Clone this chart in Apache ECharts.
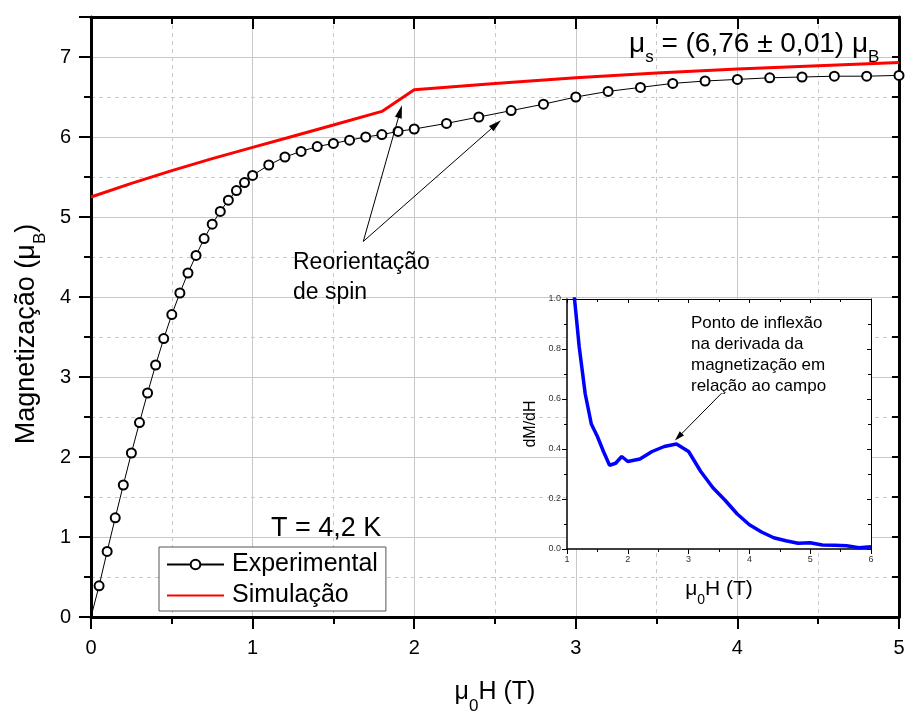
<!DOCTYPE html>
<html><head><meta charset="utf-8">
<script src="https://cdn.jsdelivr.net/npm/echarts@6/dist/echarts.min.js"></script>
<style>html,body{margin:0;padding:0;background:#fff}#c{width:907px;height:712px}</style>
</head><body><div id="c"></div>
<script>
// Experimental magnetization (μB) vs field μ0H (T)
const expField = [0,0.05,0.10,0.15,0.20,0.25,0.30,0.35,0.40,0.45,0.50,0.55,0.60,0.65,0.70,0.75,0.80,0.85,0.90,0.95,1.00,
  1.1,1.2,1.3,1.4,1.5,1.6,1.7,1.8,1.9,2.0,2.2,2.4,2.6,2.8,3.0,3.2,3.4,3.6,3.8,4.0,4.2,4.4,4.6,4.8,5.0];
const expMoment = [0,0.39,0.82,1.24,1.65,2.05,2.43,2.80,3.15,3.48,3.78,4.05,4.30,4.52,4.73,4.91,5.07,5.21,5.33,5.43,5.52,
  5.65,5.75,5.82,5.88,5.92,5.96,6.00,6.03,6.07,6.10,6.17,6.25,6.33,6.41,6.50,6.57,6.62,6.67,6.70,6.72,6.74,6.75,6.76,6.76,6.77];
// Simulation
const simField = [0,0.25,0.5,0.75,1.0,1.25,1.5,1.8,2.0,2.5,3.0,3.5,4.0,4.5,5.0];
const simMoment = [5.25,5.42,5.58,5.73,5.87,6.01,6.15,6.32,6.59,6.67,6.74,6.80,6.85,6.89,6.93];
// Inset: dM/dH
const dmdhField = [1.1,1.2,1.3,1.4,1.5,1.6,1.7,1.8,1.9,2.0,2.2,2.4,2.6,2.8,3.0,3.2,3.4,3.6,3.8,4.0,4.2,4.4,4.6,4.8,5.0,5.2,5.4,5.6,5.8,6.0];
const dmdhValue = [1.06,0.81,0.62,0.50,0.45,0.39,0.335,0.343,0.37,0.35,0.36,0.39,0.41,0.42,0.39,0.31,0.245,0.195,0.14,0.097,0.068,0.045,0.033,0.023,0.025,0.016,0.015,0.013,0.005,0.009];
// Annotation arrows (data coordinates)
const arrowSpinA = [[1.685,4.695],[1.913,6.319]];
const arrowSpinB = [[1.685,4.695],[2.507,6.157]];
const arrowInset = [[3.544,0.6235],[2.832,0.448]];

const FONT = '"Liberation Sans", Arial, Helvetica, sans-serif';
const pair = (xs, ys) => xs.map((x, i) => [x, ys[i]]);
const expData = pair(expField, expMoment).map((p, i) => i === 0 ? {value: p, symbol: 'none'} : p);

const gridCol = '#c8c8c8';
const blackLine = w => ({color: '#000', width: w});

const chart = echarts.init(document.getElementById('c'), null, {renderer: 'canvas'});
const arrowML = (pts, size) => ({
  silent: true, animation: false,
  symbol: ['none', 'triangle'],
  label: {show: false},
  lineStyle: {color: '#000', width: 1, type: 'solid'},
  emphasis: {disabled: true},
  data: pts.map(p => [{coord: p[0], symbol: 'none'}, {coord: p[1], symbol: 'triangle', symbolSize: size}])
});

chart.setOption({
  animation: false,
  backgroundColor: '#fff',
  textStyle: {fontFamily: FONT},
  grid: [
    {left: 91, top: 17, width: 808, height: 600, show: false, containLabel: false, outerBoundsMode: 'none'},
    {left: 567, top: 299, width: 304, height: 250, show: true, backgroundColor: '#fff', borderWidth: 0, z: 3, containLabel: false, outerBoundsMode: 'none'}
  ],
  xAxis: [
    {gridIndex: 0, type: 'value', min: 0, max: 5, interval: 1, position: 'bottom',
     axisLine: {show: true, onZero: false, lineStyle: blackLine(3)},
     axisTick: {show: true, inside: false, length: 12, lineStyle: blackLine(2)},
     minorTick: {show: true, splitNumber: 2, length: 7, lineStyle: blackLine(2)},
     axisLabel: {fontSize: 20, color: '#000', margin: 21, fontFamily: FONT},
     splitLine: {show: true, lineStyle: {color: gridCol, width: 1}},
     minorSplitLine: {show: true, lineStyle: {color: gridCol, width: 1, type: [4, 4]}},
     name: 'μ{sub|0}H (T)', nameLocation: 'middle', nameGap: 53,
     nameTextStyle: {fontSize: 25, color: '#000', fontFamily: FONT,
       rich: {sub: {fontSize: 17, color: '#000', fontFamily: FONT, padding: [28, 0, 0, 0]}}}},
    {gridIndex: 0, type: 'value', min: 0, max: 5, interval: 1, position: 'top',
     axisLine: {show: true, onZero: false, lineStyle: blackLine(3)},
     axisTick: {show: true, inside: true, length: 12, lineStyle: blackLine(2)},
     minorTick: {show: true, splitNumber: 2, length: 7, lineStyle: blackLine(2)},
     axisLabel: {show: false}, splitLine: {show: false}},
    {gridIndex: 1, type: 'value', min: 1, max: 6, interval: 1, position: 'bottom', z: 4,
     axisLine: {show: true, onZero: false, lineStyle: blackLine(1.5)},
     axisTick: {show: true, inside: false, length: 5, lineStyle: blackLine(1)},
     minorTick: {show: true, splitNumber: 2, length: 3, lineStyle: blackLine(1)},
     axisLabel: {fontSize: 9, color: '#333', margin: 6, fontFamily: FONT},
     splitLine: {show: false},
     name: 'μ{sub|0}H (T)', nameLocation: 'middle', nameGap: 22,
     nameTextStyle: {fontSize: 21, color: '#000', fontFamily: FONT,
       rich: {sub: {fontSize: 14, color: '#000', fontFamily: FONT, padding: [22, 0, 0, 0]}}}},
    {gridIndex: 1, type: 'value', min: 1, max: 6, interval: 1, position: 'top', z: 4,
     axisLine: {show: true, onZero: false, lineStyle: blackLine(1)},
     axisTick: {show: true, inside: true, length: 4, lineStyle: blackLine(1)},
     minorTick: {show: true, splitNumber: 2, length: 3, lineStyle: blackLine(1)},
     axisLabel: {show: false}, splitLine: {show: false}}
  ],
  yAxis: [
    {gridIndex: 0, type: 'value', min: 0, max: 7.5, interval: 0.5, position: 'left',
     axisLine: {show: true, onZero: false, lineStyle: blackLine(3)},
     axisTick: {show: true, inside: false, length: 7, lineStyle: blackLine(2)},
     axisLabel: {show: false},
     splitLine: {show: true, lineStyle: {color: gridCol, width: 1, type: [4, 4]}},
     name: 'Magnetização (μ{sub|B})', nameLocation: 'middle', nameGap: 42,
     nameTextStyle: {fontSize: 27, color: '#000', fontFamily: FONT, padding: [0, 34, 0, 0],
       rich: {sub: {fontSize: 17, color: '#000', fontFamily: FONT, padding: [28, 0, 0, 0]}}}},
    {gridIndex: 0, type: 'value', min: 0, max: 7.5, interval: 1, position: 'left',
     axisLine: {show: false},
     axisTick: {show: true, inside: false, length: 12, lineStyle: blackLine(2)},
     axisLabel: {fontSize: 20, color: '#000', margin: 20, fontFamily: FONT, showMaxLabel: false},
     splitLine: {show: true, lineStyle: {color: gridCol, width: 1}}},
    {gridIndex: 0, type: 'value', min: 0, max: 7.5, interval: 0.5, position: 'right',
     axisLine: {show: true, onZero: false, lineStyle: blackLine(3)},
     axisTick: {show: true, inside: true, length: 7, lineStyle: blackLine(2)},
     axisLabel: {show: false}, splitLine: {show: false}},
    {gridIndex: 0, type: 'value', min: 0, max: 7.5, interval: 1, position: 'right',
     axisLine: {show: false},
     axisTick: {show: true, inside: true, length: 12, lineStyle: blackLine(2)},
     axisLabel: {show: false}, splitLine: {show: false}},
    {gridIndex: 1, type: 'value', min: 0, max: 1, interval: 0.2, position: 'left', z: 4,
     axisLine: {show: true, onZero: false, lineStyle: blackLine(1.5)},
     axisTick: {show: true, inside: false, length: 5, lineStyle: blackLine(1)},
     minorTick: {show: true, splitNumber: 2, length: 3, lineStyle: blackLine(1)},
     axisLabel: {fontSize: 9, color: '#333', margin: 6, fontFamily: FONT, formatter: v => v.toFixed(1)},
     splitLine: {show: false},
     name: 'dM/dH', nameLocation: 'middle', nameGap: 28,
     nameTextStyle: {fontSize: 16, color: '#000', fontFamily: FONT}},
    {gridIndex: 1, type: 'value', min: 0, max: 1, interval: 0.2, position: 'right', z: 4,
     axisLine: {show: true, onZero: false, lineStyle: blackLine(1)},
     axisTick: {show: true, inside: true, length: 4, lineStyle: blackLine(1)},
     minorTick: {show: true, splitNumber: 2, length: 3, lineStyle: blackLine(1)},
     axisLabel: {show: false}, splitLine: {show: false}}
  ],
  legend: {
    data: ['Experimental', {name: 'Simulação', itemStyle: {opacity: 0}}],
    left: 159, top: 547, orient: 'vertical',
    itemWidth: 57, itemHeight: 12, itemGap: 6,
    padding: [5, 8, 3, 7],
    borderColor: '#555', borderWidth: 1, backgroundColor: '#fff',
    textStyle: {fontSize: 25, color: '#000', fontFamily: FONT, padding: [0, 0, 0, 3]},
    selectedMode: false
  },
  series: [
    {name: 'Experimental', type: 'line', xAxisIndex: 0, yAxisIndex: 0, data: expData,
     symbol: 'emptyCircle', symbolSize: 9, showAllSymbol: true, z: 3,
     lineStyle: {color: '#000', width: 1}, itemStyle: {color: '#000', borderWidth: 2}},
    {name: 'Simulação', type: 'line', xAxisIndex: 0, yAxisIndex: 0, data: pair(simField, simMoment),
     symbol: 'none', z: 2, color: '#ff0000',
     lineStyle: {color: '#ff0000', width: 3}, itemStyle: {color: '#ff0000'},
     markLine: arrowML([arrowSpinA, arrowSpinB], [7, 13])},
    {name: 'dM/dH', type: 'line', xAxisIndex: 2, yAxisIndex: 4, data: pair(dmdhField, dmdhValue),
     symbol: 'none', z: 6, clip: true, color: '#0000ff',
     lineStyle: {color: '#0000ff', width: 3.5},
     markLine: arrowML([arrowInset], [6, 10])}
  ],
  graphic: [
    {type: 'text', x: 629, y: 44, z: 10, silent: true,
     style: {text: 'μ{s|s} = (6,76 ± 0,01) μ{s|B}', fontSize: 28, fontFamily: FONT, fill: '#000',
       verticalAlign: 'middle', align: 'left',
       rich: {s: {fontSize: 17, fontFamily: FONT, fill: '#000', padding: [26, 0, 0, 0]}}}},
    {type: 'text', x: 271, y: 529, z: 10, silent: true,
     style: {text: 'T = 4,2 K', fontSize: 27, fontFamily: FONT, fill: '#000', verticalAlign: 'middle', align: 'left'}},
    {type: 'text', x: 293, y: 248, z: 10, silent: true,
     style: {text: 'Reorientação\nde spin', fontSize: 23, lineHeight: 30, fontFamily: FONT, fill: '#000', verticalAlign: 'top', align: 'left'}},
    {type: 'text', x: 691, y: 313, z: 10, silent: true,
     style: {text: 'Ponto de inflexão\nna derivada da\nmagnetização em\nrelação ao campo', fontSize: 17, lineHeight: 21, fontFamily: FONT, fill: '#000', verticalAlign: 'top', align: 'left'}}
  ]
});
</script>
</body></html>
